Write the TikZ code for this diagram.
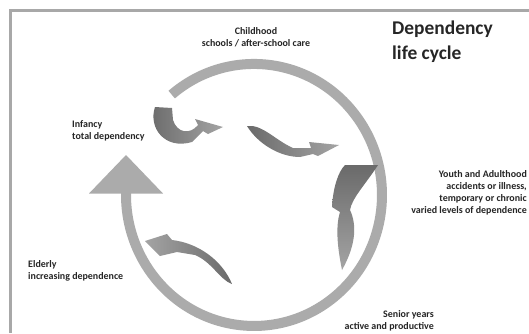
\documentclass[tikz,border=0pt]{standalone}
\usepackage{fontspec}
\setmainfont{Carlito}
\definecolor{ringgray}{HTML}{ABABAB}
\definecolor{bordergray}{HTML}{A8A8A8}
\definecolor{darkg}{HTML}{6A6A6A}
\definecolor{lightg}{HTML}{A4A4A4}
\begin{document}
\begin{tikzpicture}[x=1bp,y=-1bp,
  lbl/.style={font=\fontsize{10}{12}\selectfont\bfseries, text=black!85, inner sep=0pt},
  ringline/.style={draw=ringgray, line width=10bp},
  borderline/.style={draw=bordergray, line width=2.5bp},
]
\useasboundingbox (0,0) rectangle (529,333);
\fill[white] (0,0) rectangle (529,333);
% frame lines
\draw[borderline] (10.5,333) -- (10.5,10.5) -- (529,10.5);
% big ring with arrow
\coordinate (ringstart) at (171.7,94.6);
\draw[ringline] (ringstart) arc[start angle=-130, end angle=181, x radius=128, y radius=131] coordinate (ringend);
\fill[ringgray] (126,155) -- (163,193.5) -- (89,193.5) -- cycle;
% swoosh 1 (infancy -> childhood)
\shade[left color=darkg, right color=lightg]
  (155,107) .. controls (148,128) and (165,150) .. (192,142)
  -- (203,131) -- (208,134) -- (223,127) -- (195,119) -- (198,125)
  .. controls (190,135) and (177,133) .. (173,120) -- (172,108) -- cycle;
% swoosh 2 (childhood -> youth)
\shade[left color=darkg, right color=lightg]
  (247,126) .. controls (262,124) and (275,140) .. (293,148)
  -- (311,148) -- (309,142) -- (339,145) -- (318,156) -- (313,154) -- (300,157)
  .. controls (280,157) and (258,144) .. (247,126) -- cycle;
% swoosh 3 (youth -> senior)
\shade[top color=darkg, bottom color=lightg]
  (345,165) -- (378,165) .. controls (365,185) and (352,198) .. (350,210)
  .. controls (357,225) and (356,245) .. (342,270)
  .. controls (338,250) and (335,228) .. (340,212)
  -- (332,207) .. controls (333,188) and (338,172) .. (345,165) -- cycle;
% swoosh 4 (senior -> elderly)
\shade[left color=lightg, right color=darkg]
  (145,241) -- (167,234) -- (172,240) .. controls (198,243) and (222,260) .. (232,284)
  .. controls (220,280) and (212,262) .. (195,255) -- (177,252) -- (160,256) -- cycle;
% texts
\node[anchor=north west, inner sep=0pt, font=\fontsize{19.5}{25}\selectfont\bfseries, text=black!85, align=left] (title) at (392,21) {Dependency\\life cycle};
\node[lbl, anchor=north, align=center] (child) at (256,27) {Childhood\\schools / after-school care};
\node[lbl, anchor=north west, align=left] (inf) at (72,120) {Infancy\\total dependency};
\node[lbl, anchor=north east, align=right] (youth) at (527,170) {Youth and Adulthood\\accidents or illness,\\temporary or chronic\\varied levels of dependence};
\node[lbl, anchor=north west, align=left] (eld) at (28,260) {Elderly\\increasing dependence};
\node[lbl, anchor=north east, align=right] (sen) at (434,310) {Senior years\\active and productive};
\end{tikzpicture}
\end{document}
